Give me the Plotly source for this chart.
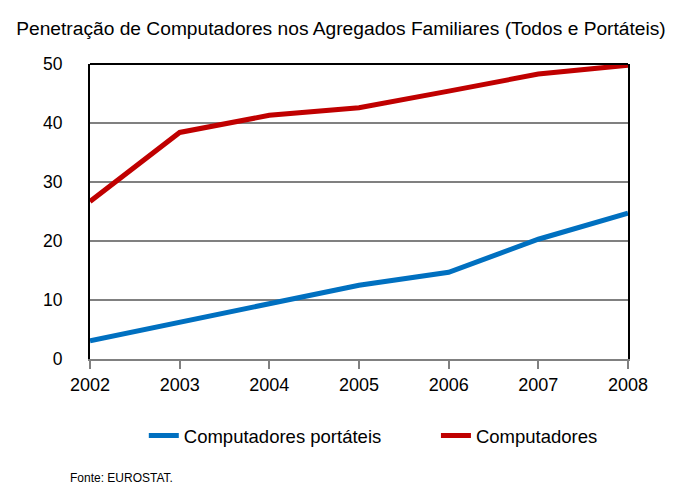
import plotly.graph_objects as go

years = [2002, 2003, 2004, 2005, 2006, 2007, 2008]
portateis = [3.1, 6.2, 9.5, 12.5, 14.7, 20.3, 24.7]
computadores = [26.7, 38.4, 41.3, 42.6, 45.4, 48.3, 49.8]

FONT = "Liberation Sans, Arial, sans-serif"

fig = go.Figure()
fig.add_trace(go.Scatter(
    x=years, y=portateis, mode="lines", name="Computadores portáteis",
    line=dict(color="#0070C0", width=5), legend="legend",
))
fig.add_trace(go.Scatter(
    x=years, y=computadores, mode="lines", name="Computadores",
    line=dict(color="#C00000", width=5), legend="legend2",
))

legend_style = dict(orientation="h", xanchor="left", y=-0.261, yanchor="middle",
                    font=dict(size=18.5), bgcolor="rgba(0,0,0,0)")

# page body adds an 8px offset, so the figure is a bit smaller and shifted
fig.update_layout(
    width=670, height=476,
    margin=dict(l=82, r=50, t=56, b=125),
    paper_bgcolor="white", plot_bgcolor="white",
    font=dict(family=FONT, size=17, color="black"),
    title=dict(
        text="Penetração de Computadores nos Agregados Familiares (Todos e Portáteis)",
        font=dict(family="Liberation Sans Narrow, Arial Narrow, Liberation Sans, sans-serif", size=19.2),
        x=0.497, xanchor="center", y=0.958, yanchor="middle",
    ),
    showlegend=True,
    legend=dict(x=0.1, **legend_style),
    legend2=dict(x=0.643, **legend_style),
    xaxis=dict(
        range=[2002, 2008], tickmode="array", tickvals=years,
        showgrid=False, zeroline=False,
        showline=True, linecolor="#808080", linewidth=2,
        ticks="outside", ticklen=8, tickcolor="#808080", tickwidth=2,
        tickfont=dict(size=18), fixedrange=True,
    ),
    yaxis=dict(
        range=[0, 50], dtick=10,
        showgrid=True, gridcolor="#808080", gridwidth=1.5,
        zeroline=False,
        showline=True, linecolor="black", linewidth=2, mirror=True,
        ticks="", ticklabelstandoff=22,
        tickfont=dict(size=17.5), fixedrange=True,
    ),
)

# black top border of the plot frame
fig.add_shape(type="line", xref="paper", yref="paper", x0=0, x1=1, y0=1, y1=1,
              line=dict(color="black", width=2))

fig.add_annotation(
    text="Fonte: EUROSTAT.", xref="paper", yref="paper",
    x=-0.041, y=-0.403, xanchor="left", yanchor="middle", showarrow=False,
    font=dict(family="Liberation Sans Narrow, Arial Narrow, Liberation Sans, sans-serif", size=12),
)

fig.write_html("out.html")
